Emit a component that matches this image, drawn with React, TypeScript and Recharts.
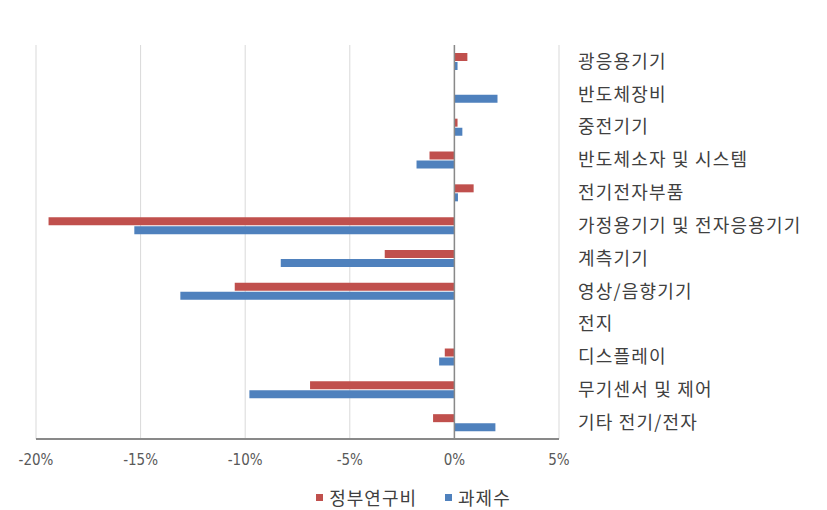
import {
  BarChart,
  Bar,
  XAxis,
  YAxis,
  CartesianGrid,
  Legend,
  ReferenceLine,
} from 'recharts';

const categories = [
  '광응용기기',
  '반도체장비',
  '중전기기',
  '반도체소자 및 시스템',
  '전기전자부품',
  '가정용기기 및 전자응용기기',
  '계측기기',
  '영상/음향기기',
  '전지',
  '디스플레이',
  '무기센서 및 제어',
  '기타 전기/전자',
];

// 정부연구비 증감률 (%)
const fundingChange = [0.62, 0, 0.15, -1.19, 0.92, -19.4, -3.33, -10.5, 0, -0.46, -6.9, -1.02];
// 과제수 증감률 (%)
const projectChange = [0.15, 2.06, 0.38, -1.81, 0.17, -15.3, -8.3, -13.1, 0, -0.73, -9.8, 1.96];

const xTicks = [-20, -15, -10, -5, 0, 5];

const seriesNames = { funding: '정부연구비', projects: '과제수' };
const RED = '#C0504D';
const BLUE = '#4F81BD';

const data = categories.map((name, i) => ({
  name,
  funding: fundingChange[i],
  projects: projectChange[i],
}));

const KR_FONT = '"Noto Sans CJK KR", "Noto Sans", sans-serif';

function ChartLegend() {
  const items = [
    { label: seriesNames.funding, color: RED },
    { label: seriesNames.projects, color: BLUE },
  ];
  return (
    <div style={{ display: 'flex', justifyContent: 'center', gap: 28 }}>
      {items.map((it) => (
        <div key={it.label} style={{ display: 'flex', alignItems: 'center' }}>
          <span
            style={{
              display: 'inline-block',
              width: 7,
              height: 7,
              background: it.color,
              marginRight: 6,
            }}
          />
          <span
            style={{
              fontFamily: KR_FONT,
              fontSize: 18,
              letterSpacing: 1,
              color: '#404040',
              lineHeight: '20px',
            }}
          >
            {it.label}
          </span>
        </div>
      ))}
    </div>
  );
}

export default function App() {
  return (
    <div style={{ position: 'absolute', left: 0, top: 0, width: 827, height: 510, background: '#fff' }}>
      <BarChart
        width={827}
        height={510}
        data={data}
        layout="vertical"
        margin={{ top: 45, right: 10, bottom: 0, left: 36 }}
        barSize={8}
        barGap={1}
      >
        <CartesianGrid horizontal={false} stroke="#d9d9d9" strokeWidth={1} />
        <XAxis
          type="number"
          domain={[-20, 5]}
          ticks={xTicks}
          tickFormatter={(v) => `${v}%`}
          interval={0}
          height={71}
          tickSize={0}
          tickMargin={15}
          axisLine={{ stroke: '#898989', strokeWidth: 2 }}
          tick={{ fontSize: 15, fill: '#595959', fontFamily: '"DejaVu Sans Condensed", "Liberation Sans Narrow", sans-serif' }}
        />
        <YAxis
          type="category"
          dataKey="name"
          orientation="right"
          width={258}
          interval={0}
          tickSize={0}
          tickMargin={19}
          axisLine={false}
          tickLine={false}
          tick={{ fontSize: 18, fill: '#404040', fontFamily: KR_FONT, letterSpacing: 1.2 }}
        />
        <ReferenceLine x={0} stroke="#898989" strokeWidth={1.5} />
        <Bar
          dataKey="funding"
          name={seriesNames.funding}
          fill={RED}
          isAnimationActive={false}
        />
        <Bar
          dataKey="projects"
          name={seriesNames.projects}
          fill={BLUE}
          isAnimationActive={false}
        />
        <Legend
          layout="horizontal"
          align="center"
          verticalAlign="middle"
          content={() => <ChartLegend />}
          wrapperStyle={{ top: 487, left: 0, width: 827, height: 20 }}
        />
      </BarChart>
    </div>
  );
}
